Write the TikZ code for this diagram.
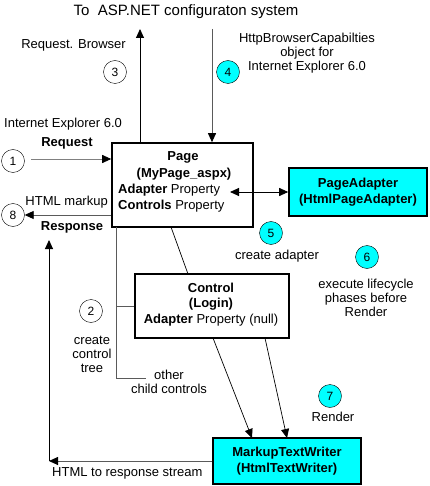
\documentclass[tikz,border=0pt]{standalone}
\usepackage{fontspec}
\setmainfont{Liberation Sans}
\usetikzlibrary{arrows.meta}
\definecolor{cy}{HTML}{00FFFF}
\definecolor{ln}{HTML}{5A5A5A}
\tikzset{
  txt/.style={inner sep=0pt, font=\fontsize{13}{15.5}\selectfont, align=center},
  num/.style={circle, draw=black, thin, minimum size=23pt, inner sep=0pt, font=\fontsize{12}{14}\selectfont},
  cnum/.style={num, fill=cy},
  box/.style={draw=black, line width=1.6pt, inner sep=0pt, font=\fontsize{13}{16}\selectfont},
  arr/.style={-{Triangle[length=9pt,width=8pt,color=black]}, line width=0.9pt},
  darr/.style={{Triangle[length=9pt,width=8pt]}-{Triangle[length=9pt,width=8pt]}, line width=0.9pt},
  conn/.style={line width=0.9pt, draw=ln},
}
\begin{document}
\begin{tikzpicture}[x=1pt,y=-1pt]
\useasboundingbox (0,0) rectangle (429,486);
% title
\node[txt, font=\fontsize{15}{17}\selectfont] (title) at (186,12) {To\ \ ASP.NET configuraton system};
% Page box
\node[box, minimum width=141pt, minimum height=84pt] (page) at (182.5,185) {};
\node[txt, font=\fontsize{13}{15.5}\selectfont\bfseries] (pt1) at (183,157) {Page};
\node[txt, font=\fontsize{13}{15.5}\selectfont\bfseries] (pt2) at (184,174) {(MyPage\_aspx)};
\node[txt, anchor=west] (pt3) at (118,190) {\textbf{Adapter} Property};
\node[txt, anchor=west] (pt4) at (118,206) {\textbf{Controls} Property};
% PageAdapter
\node[box, fill=cy, minimum width=138pt, minimum height=48pt, align=center, font=\fontsize{13}{16}\selectfont\bfseries] (pa) at (358,192) {PageAdapter\\(HtmlPageAdapter)};
% Control box
\node[box, minimum width=154pt, minimum height=64pt] (ctrl) at (212,306) {};
\node[txt, font=\fontsize{13}{15.5}\selectfont\bfseries] (ct1) at (211,288) {Control};
\node[txt, font=\fontsize{13}{15.5}\selectfont\bfseries] (ct2) at (211,304) {(Login)};
\node[txt] (ct3) at (211,320) {\textbf{Adapter} Property (null)};
% MarkupTextWriter
\node[box, fill=cy, minimum width=148pt, minimum height=46pt, align=center, font=\fontsize{13}{16}\selectfont\bfseries] (mtw) at (287,461) {MarkupTextWriter\\(HtmlTextWriter)};
% circles
\node[num] (c1) at (13,161) {1};
\node[num] (c2) at (91,311) {2};
\node[num] (c3) at (115,72) {3};
\node[cnum] (c4) at (228,72) {4};
\node[cnum] (c5) at (271,233) {5};
\node[cnum] (c6) at (367,257) {6};
\node[cnum] (c7) at (330,396) {7};
\node[num] (c8) at (13,215) {8};
% labels
\node[txt, anchor=east] (rb) at (126,45) {Request. Browser};
\node[txt] (hbc) at (307,53) {HttpBrowserCapabilties\\[-1.5pt]object for\\[-1.5pt]Internet Explorer 6.0};
\node[txt, anchor=west] (ie) at (4,124) {Internet Explorer 6.0};
\node[txt, font=\fontsize{13}{15.5}\selectfont\bfseries] (req) at (67,143) {Request};
\node[txt, anchor=east] (hm) at (108,202) {HTML markup};
\node[txt, font=\fontsize{13}{15.5}\selectfont\bfseries] (resp) at (72,227) {Response};
\node[txt] (ca) at (277,256) {create adapter};
\node[txt] (el) at (366,298) {execute lifecycle\\[-1.5pt]phases before\\[-1.5pt]Render};
\node[txt] (cct) at (92,354) {create\\[-1.5pt]control\\[-1.5pt]tree};
\node[txt] (occ) at (169,382) {other\\[-1.5pt]child controls};
\node[txt] (rd) at (333,417) {Render};
\node[txt, anchor=west] (hrs) at (52,473) {HTML to response stream};
% coordinates
\coordinate (cfgL) at (140,29);
\coordinate (cfgR) at (212,29);
\coordinate (padL) at (230,192);
\coordinate (treeX) at (116,227);
\coordinate (treeB) at (116,378);
\coordinate (treeE) at (146,378);
\coordinate (treeM) at (116,306);
\coordinate (pgL) at (171,227);
\coordinate (ctT) at (188,274);
\coordinate (retC) at (49,461);
\coordinate (retT) at (49,240);
\coordinate (cb1) at (213,338);
\coordinate (cb2) at (265,338);
\coordinate (mt1) at (252,438);
\coordinate (mt2) at (287,438);
% connectors
\draw[arr] (cfgL |- page.north) -- (cfgL);
\draw[arr, draw=ln] (cfgR) -- (cfgR |- page.north);
\draw[arr, draw=gray] (31,159) -- (page.west |- 0,159);
\draw[arr, draw=ln] (page.west |- c8) -- (c8.east);
\draw[darr] (padL) -- (pa.west);
\draw[conn] (treeX) -- (treeB) -- (treeE);
\draw[conn] (treeM) -- (ctrl.west);
\draw[line width=0.7pt] (pgL) -- (ctT);
\draw[arr, line width=0.7pt] (cb1) -- (mt1);
\draw[arr, line width=0.7pt] (cb2) -- (mt2);
\draw[arr, draw=ln] (mtw.west) -- (retC);
\draw[arr] (retC) -- (retT);
\end{tikzpicture}
\end{document}
